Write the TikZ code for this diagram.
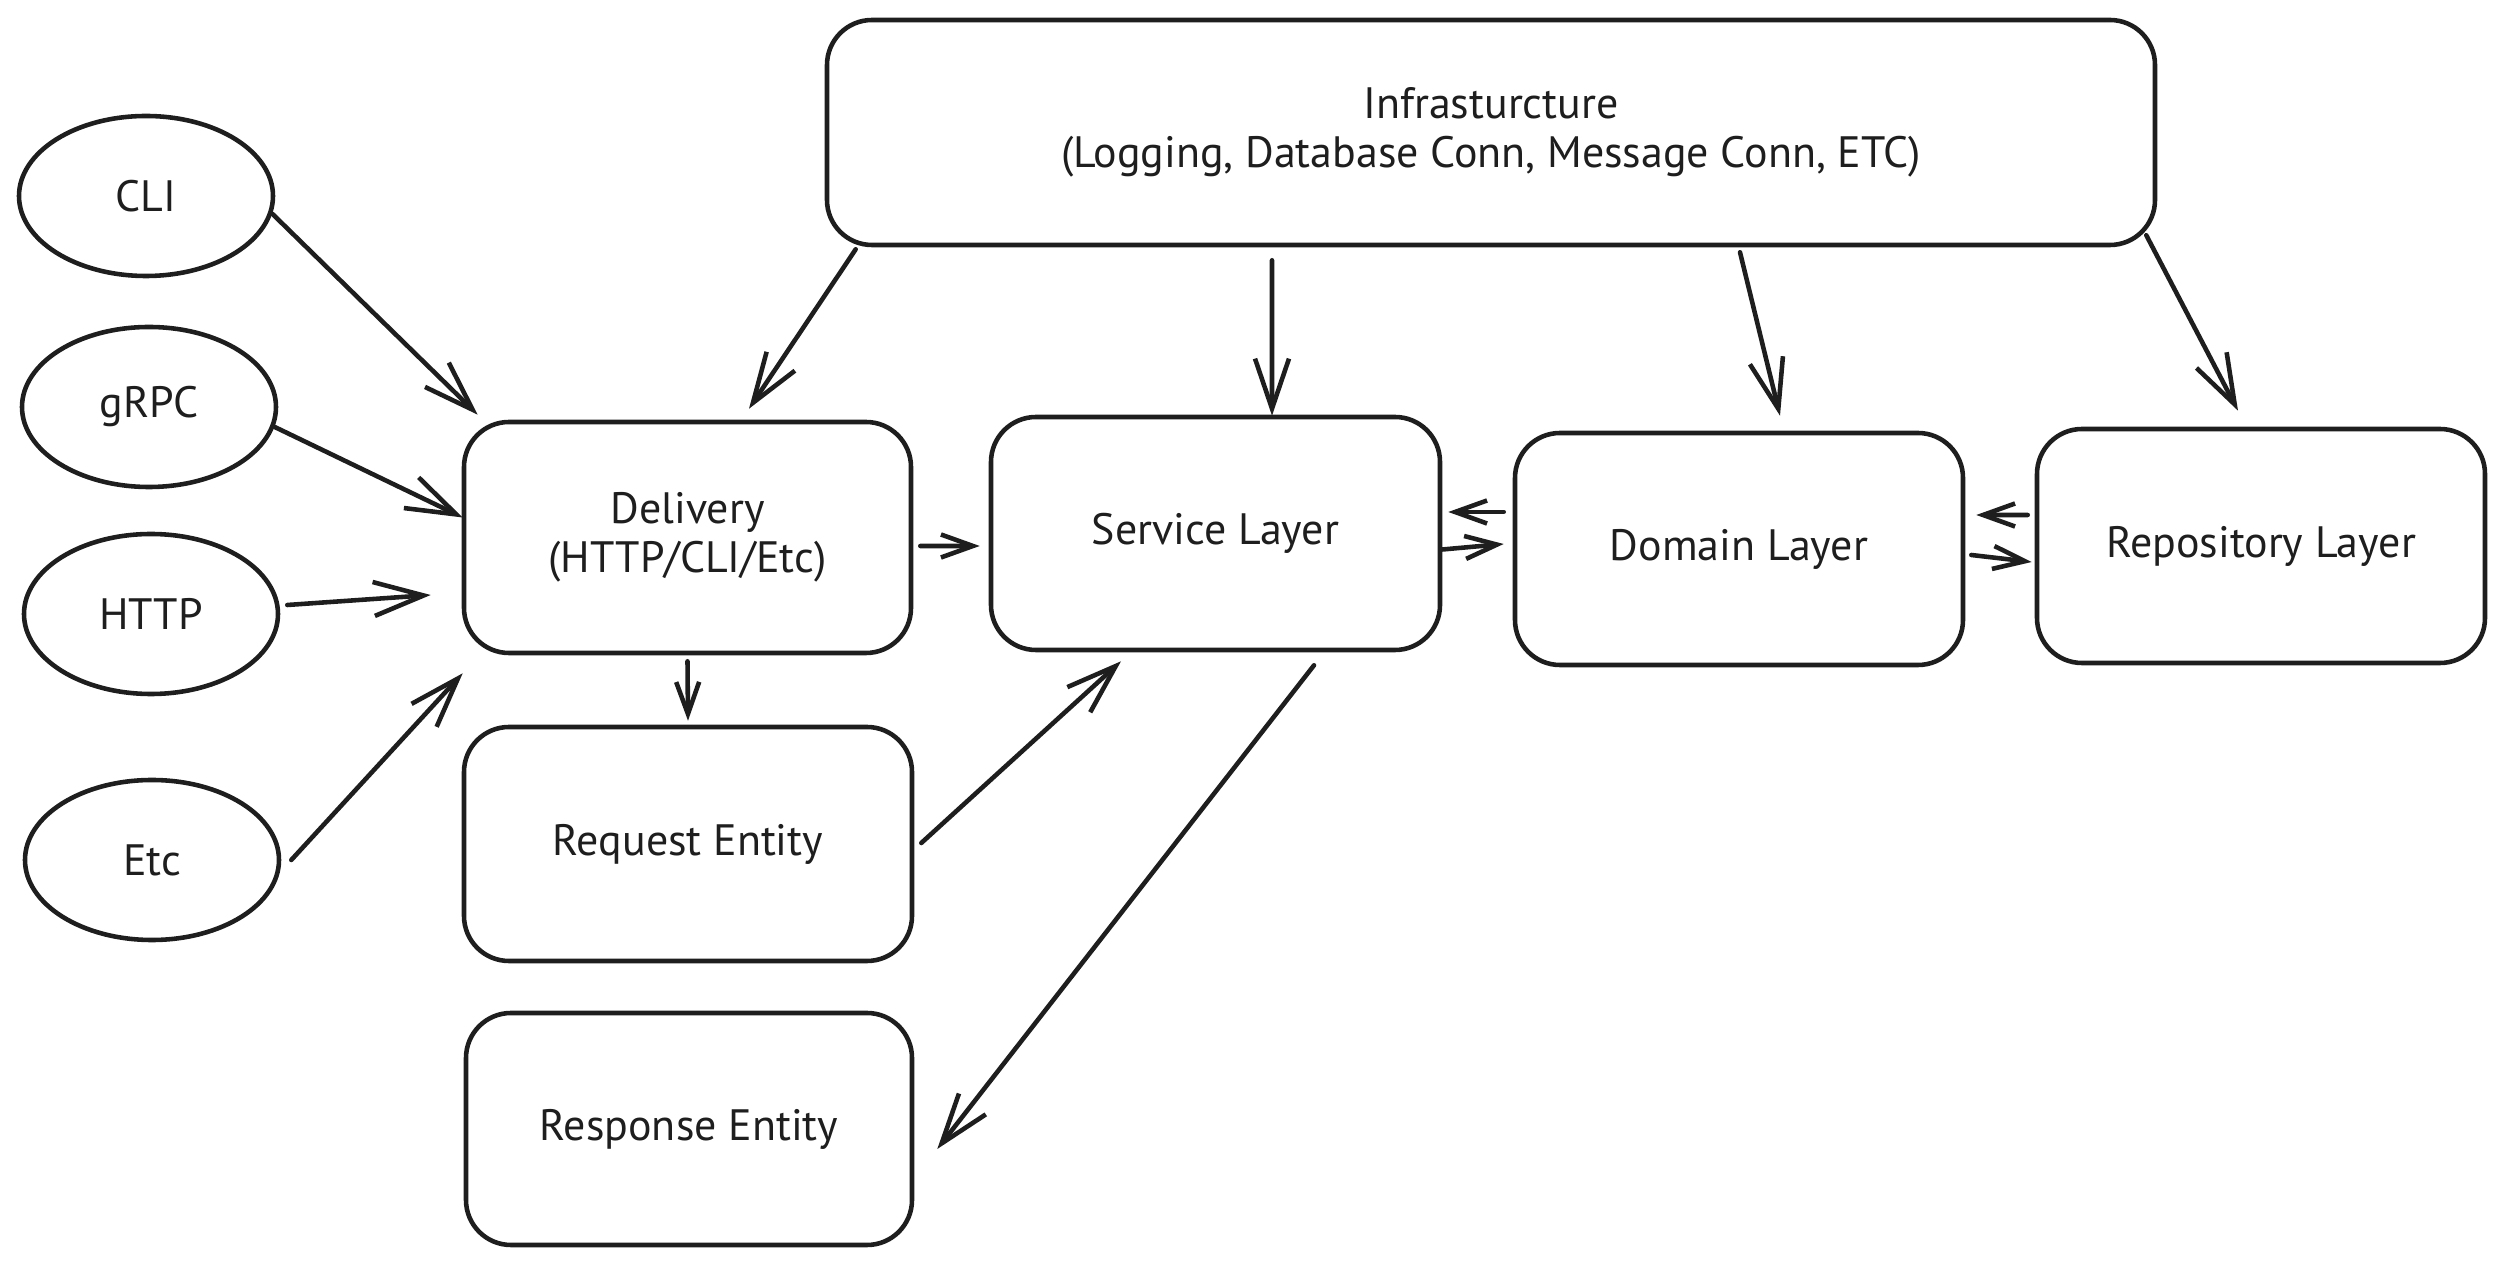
\documentclass[tikz,border=0pt]{standalone}
\usepackage{fontspec}
\setmainfont{PT Sans}
\usetikzlibrary{calc, arrows.meta, shapes.geometric}
\definecolor{inkdark}{HTML}{1E1E1E}

\begin{document}
\begin{tikzpicture}[
    every node/.style={font=\fontsize{12.5}{14}\selectfont, text=inkdark, align=center},
    layer/.style={draw=inkdark, line width=1.3pt, rounded corners=0.45cm, fill=white,
                  inner sep=0pt, minimum width=4.48cm, minimum height=2.32cm},
    entry/.style={ellipse, draw=inkdark, line width=1.3pt, fill=white, inner sep=0pt,
                  minimum width=2.54cm, minimum height=1.6cm},
    flow/.style={->, draw=inkdark, line width=1.3pt, line cap=round, line join=round},
    shortflow/.style={flow, -{Straight Barb[length=3.2mm, width=2.3mm]}},
    >={Straight Barb[length=5mm, width=3.4mm]}
]

\useasboundingbox (0,0) rectangle (24.99,12.64);

% Entry points
\node[entry] (cli)  at (1.46,10.68) {CLI};
\node[entry] (grpc) at (1.49,8.57)  {gRPC};
\node[entry] (http) at (1.51,6.50)  {HTTP};
\node[entry] (etc)  at (1.52,4.04)  {Etc};

% Infrastructure
\node[layer, minimum width=13.28cm, minimum height=2.25cm] (infra) at (14.91,11.315)
    {Infrasturcture\\(Logging, Database Conn, Message Conn, ETC)};

% Layers
\node[layer, minimum width=4.47cm, minimum height=2.31cm] (delivery) at (6.875,7.265)
    {Delivery\\(HTTP/CLI/Etc)};
\node[layer, minimum width=4.49cm, minimum height=2.33cm] (service)  at (12.155,7.305) {Service Layer};
\node[layer] (domain)   at (17.39,7.15)  {Domain Layer};
\node[layer, minimum height=2.34cm] (repo) at (22.61,7.18) {Repository Layer};

% Entities
\node[layer, minimum height=2.34cm] (request)  at (6.88,4.20) {Request Entity};
\node[layer, minimum width=4.46cm] (response) at (6.89,1.35) {Response Entity};

% Entry points -> delivery
\draw[flow] (cli.-8) -- ($(delivery.north west)+(0.16,0.05)$);
\draw[flow] (grpc.-9) -- ($(delivery.west)+(0.01,0.2)$);
\draw[flow] ($(http.east)+(0.07,0.09)$) -- ($(delivery.west)+(-0.31,-0.575)$);
\draw[flow] ($(etc.east)+(0.1,0)$) -- ($(delivery.south west)+(0.01,-0.18)$);

% Infrastructure -> layers
\draw[flow] ($(infra.south west)+(0.31,-0.02)$) -- ($(delivery.north)+(0.615,0.11)$);
\draw[flow] ($(infra.south)+(-2.19,-0.13)$) -- ($(service.north)+(0.565,-0.01)$);
\draw[flow] ($(infra.south)+(2.49,-0.05)$) -- ($(domain.north)+(0.41,0.15)$);
\draw[flow] ($(infra.south east)+(-0.11,0.12)$) -- ($(repo.north)+(-0.23,0.16)$);

% Between layers
\draw[shortflow] ($(delivery.east)+(0.07,-0.085)$) -- ($(service.west)+(-0.09,-0.125)$);
\draw[shortflow] ($(delivery.south)+(0,-0.06)$) -- ($(request.north)+(0,0.04)$);
\draw[shortflow] ($(service.east)+(0,-0.16)$) -- ($(domain.west)+(-0.09,0.05)$);
\draw[shortflow] ($(domain.west)+(-0.09,0.37)$) -- ($(service.east)+(0.06,0.215)$);
\draw[shortflow] ($(repo.west)+(-0.07,0.31)$) -- ($(domain.east)+(0.11,0.34)$);
\draw[shortflow] ($(domain.east)+(0.06,-0.06)$) -- ($(repo.west)+(-0.03,-0.16)$);

% Entities <-> service
\draw[flow] ($(request.east)+(0.07,0.01)$) -- ($(service.south)+(-0.945,-0.09)$);
\draw[flow] ($(service.south)+(0.985,-0.13)$) -- ($(response.east)+(0.23,-0.2)$);

\end{tikzpicture}
\end{document}
